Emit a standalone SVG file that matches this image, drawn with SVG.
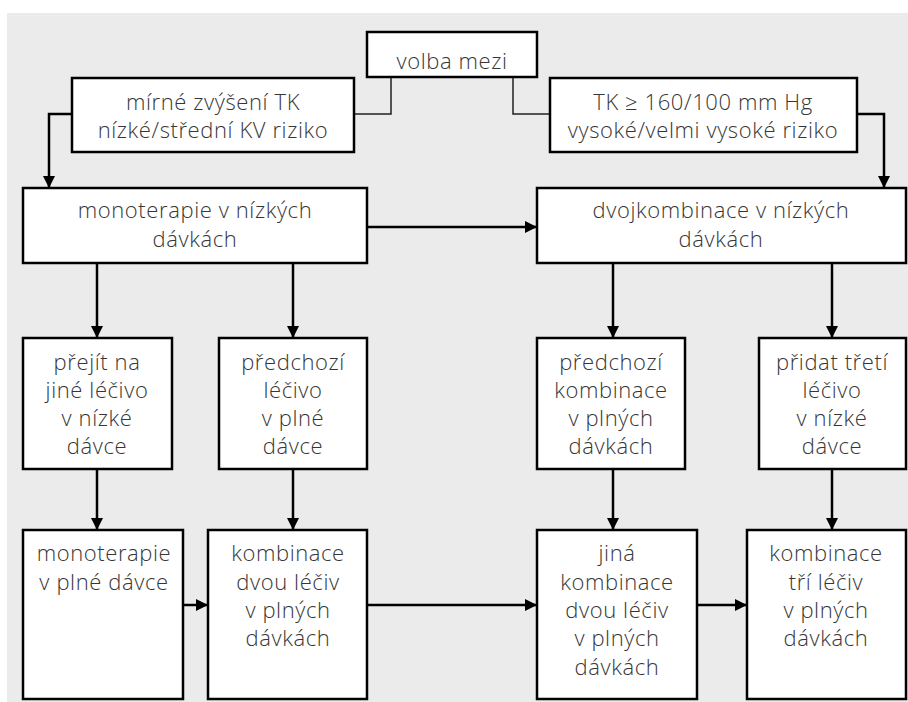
<svg xmlns="http://www.w3.org/2000/svg" width="908" height="702" viewBox="0 0 908 702">
<defs>
<marker id="ah" viewBox="0 0 12 12" refX="12" refY="6" markerWidth="12" markerHeight="12" markerUnits="userSpaceOnUse" orient="auto">
<path d="M0,0 L12,6 L0,12 Z" fill="#000"/>
</marker>
<style>
.box{fill:#fff;stroke:#000;stroke-width:2.5}
.t{font-family:"Open Sans","Noto Sans","Liberation Sans",sans-serif;font-size:22px;font-weight:300;letter-spacing:0.6px;fill:#363636;text-anchor:middle}
.thin{fill:none;stroke:#222;stroke-width:1.5}
.arr{fill:none;stroke:#000;stroke-width:2.5;marker-end:url(#ah)}
</style>
</defs>
<rect x="0" y="0" width="908" height="702" fill="#fff"/>
<rect x="7" y="13" width="901" height="689" fill="#ebebeb"/>
<g id="connectors">
<path class="thin" d="M391,77 V114 H354"/>
<path class="thin" d="M513,77 V114 H550"/>
<path class="arr" d="M72,114 H49 V188"/>
<path class="arr" d="M857,114 H884 V188"/>
<path class="arr" d="M367,227 H537"/>
<path class="arr" d="M97,263 V338"/>
<path class="arr" d="M293,263 V338"/>
<path class="arr" d="M613,263 V338"/>
<path class="arr" d="M832,263 V338"/>
<path class="arr" d="M97,469 V530"/>
<path class="arr" d="M293,469 V530"/>
<path class="arr" d="M613,469 V530"/>
<path class="arr" d="M832,469 V530"/>
<path class="arr" d="M183,605 H208"/>
<path class="arr" d="M367,605 H537"/>
<path class="arr" d="M697,605 H747"/>
</g>
<g id="volba">
<rect class="box" x="367" y="32" width="170" height="45"/>
<text class="t" x="452" y="69">volba mezi</text>
</g>
<g id="mirne">
<rect class="box" x="72" y="78" width="282" height="74"/>
<text class="t" x="213" y="110">mírné zvýšení TK</text>
<text class="t" x="213" y="138">nízké/střední KV riziko</text>
</g>
<g id="tk160">
<rect class="box" x="550" y="78" width="307" height="74"/>
<text class="t" x="703" y="110">TK ≥ 160/100 mm Hg</text>
<text class="t" x="703" y="138">vysoké/velmi vysoké riziko</text>
</g>
<g id="mono-low">
<rect class="box" x="23" y="188" width="344" height="75"/>
<text class="t" x="195" y="218">monoterapie v nízkých</text>
<text class="t" x="195" y="247">dávkách</text>
</g>
<g id="dvoj-low">
<rect class="box" x="537" y="188" width="369" height="75"/>
<text class="t" x="721" y="218">dvojkombinace v nízkých</text>
<text class="t" x="721" y="247">dávkách</text>
</g>
<g id="prejit">
<rect class="box" x="23" y="338" width="149" height="131"/>
<text class="t" x="97" y="370">přejít na</text>
<text class="t" x="97" y="398">jiné léčivo</text>
<text class="t" x="97" y="426">v nízké</text>
<text class="t" x="97" y="454">dávce</text>
</g>
<g id="predchozi-lecivo">
<rect class="box" x="219" y="338" width="148" height="131"/>
<text class="t" x="293" y="370">předchozí</text>
<text class="t" x="293" y="398">léčivo</text>
<text class="t" x="293" y="426">v plné</text>
<text class="t" x="293" y="454">dávce</text>
</g>
<g id="predchozi-kombinace">
<rect class="box" x="537" y="338" width="148" height="131"/>
<text class="t" x="611" y="370">předchozí</text>
<text class="t" x="611" y="398">kombinace</text>
<text class="t" x="611" y="426">v plných</text>
<text class="t" x="611" y="454">dávkách</text>
</g>
<g id="pridat">
<rect class="box" x="759" y="338" width="147" height="131"/>
<text class="t" x="832" y="370">přidat třetí</text>
<text class="t" x="832" y="398">léčivo</text>
<text class="t" x="832" y="426">v nízké</text>
<text class="t" x="832" y="454">dávce</text>
</g>
<g id="mono-full">
<rect class="box" x="23" y="530" width="160" height="169"/>
<text class="t" x="104" y="561">monoterapie</text>
<text class="t" x="104" y="590">v plné dávce</text>
</g>
<g id="komb-dvou">
<rect class="box" x="208" y="530" width="159" height="169"/>
<text class="t" x="288" y="561">kombinace</text>
<text class="t" x="288" y="590">dvou léčiv</text>
<text class="t" x="288" y="618">v plných</text>
<text class="t" x="288" y="646">dávkách</text>
</g>
<g id="jina-komb">
<rect class="box" x="537" y="530" width="160" height="169"/>
<text class="t" x="617" y="561">jiná</text>
<text class="t" x="617" y="590">kombinace</text>
<text class="t" x="617" y="618">dvou léčiv</text>
<text class="t" x="617" y="646">v plných</text>
<text class="t" x="617" y="675">dávkách</text>
</g>
<g id="komb-tri">
<rect class="box" x="747" y="530" width="159" height="169"/>
<text class="t" x="826" y="561">kombinace</text>
<text class="t" x="826" y="590">tří léčiv</text>
<text class="t" x="826" y="618">v plných</text>
<text class="t" x="826" y="646">dávkách</text>
</g>
</svg>
